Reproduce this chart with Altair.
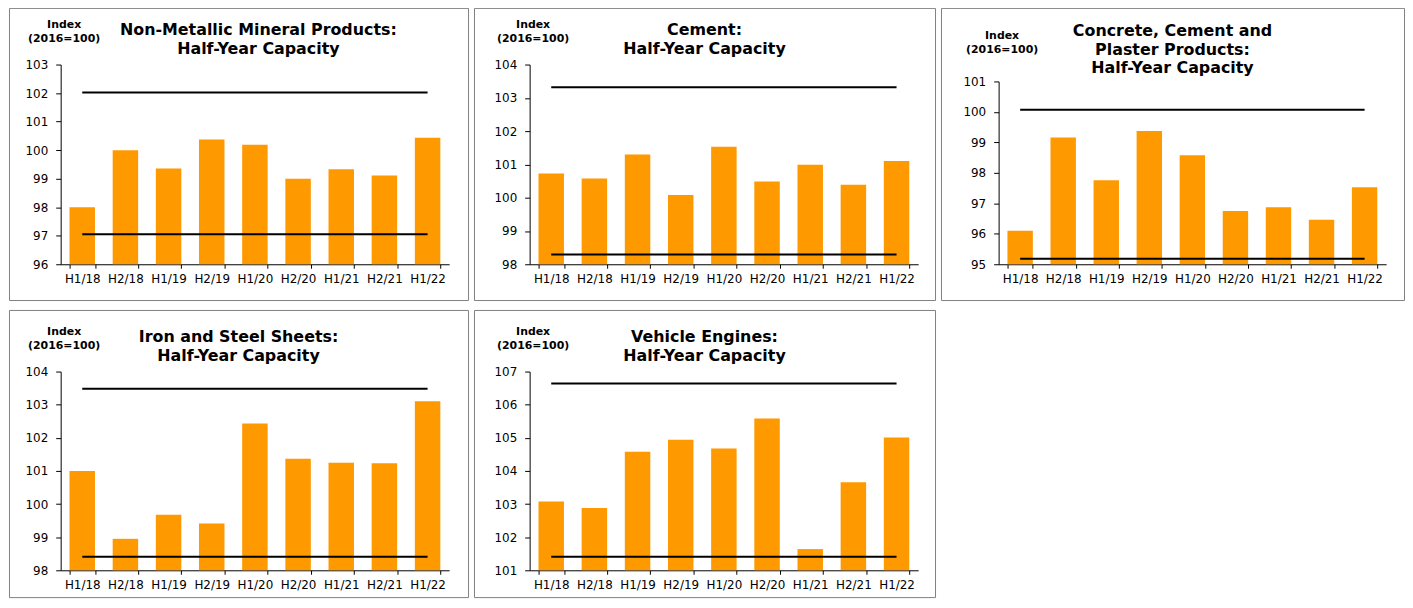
import altair as alt
import pandas as pd

periods = ["H1/18", "H2/18", "H1/19", "H2/19", "H1/20", "H2/20", "H1/21", "H2/21", "H1/22"]

titles = [
    ["Non-Metallic Mineral Products:", "Half-Year Capacity"],
    ["Cement:", "Half-Year Capacity"],
    ["Concrete, Cement and", "Plaster Products:", "Half-Year Capacity"],
    ["Iron and Steel Sheets:", "Half-Year Capacity"],
    ["Vehicle Engines:", "Half-Year Capacity"],
]

nonmetallic = [98.0, 100.0, 99.36, 100.37, 100.19, 99.0, 99.33, 99.11, 100.43]
cement = [100.73, 100.58, 101.30, 100.08, 101.53, 100.49, 100.99, 100.39, 101.10]
concrete = [96.10, 99.16, 97.76, 99.37, 98.58, 96.75, 96.87, 96.46, 97.53]
iron_steel = [101.0, 98.95, 99.68, 99.41, 102.43, 101.37, 101.25, 101.23, 103.10]
engines = [103.08, 102.88, 104.58, 104.94, 104.68, 105.58, 101.64, 103.66, 105.01]
series = [nonmetallic, cement, concrete, iron_steel, engines]

upper_lines = [102.02, 103.32, 100.07, 103.48, 106.64]
lower_lines = [97.05, 98.29, 95.18, 98.41, 101.41]
axis_min = [96, 98, 95, 98, 101]
axis_max = [103, 104, 101, 104, 107]

FONT = "DejaVu Sans"
ORANGE = "#FF9900"

# layout of each panel: width, height, x range, y range (bottom, top), title dx, title offset, index label y
layout = [
    dict(w=462, h=294, xr=[52, 443], yr=[258, 57], dx=20, toff=-49, iy=11),
    dict(w=464, h=294, xr=[56, 447], yr=[258, 57], dx=0, toff=-49, iy=11),
    dict(w=466, h=294, xr=[58, 448], yr=[258, 74], dx=0, toff=-69, iy=22),
    dict(w=462, h=289, xr=[52, 443], yr=[262, 62], dx=0, toff=-54, iy=16),
    dict(w=464, h=289, xr=[56, 447], yr=[262, 62], dx=0, toff=-54, iy=16),
]


def panel(i):
    L = layout[i]
    lo, hi = axis_min[i], axis_max[i]
    bars_df = pd.DataFrame({"period": periods, "value": series[i]})
    lines_df = pd.DataFrame({
        "period": [periods[0], periods[-1], periods[0], periods[-1]],
        "value": [upper_lines[i], upper_lines[i], lower_lines[i], lower_lines[i]],
        "line": ["upper", "upper", "lower", "lower"],
    })
    xscale = alt.Scale(domain=periods, range=L["xr"], paddingInner=0.41, paddingOuter=0.205)
    yscale = alt.Scale(domain=[lo, hi], range=L["yr"], nice=False, zero=False)
    xaxis = alt.Axis(
        title=None, offset=L["yr"][0] - L["h"], tickBand="extent", labelAngle=0,
        labelFont=FONT, labelFontSize=12, labelColor="black", labelPadding=5,
        tickSize=4, tickColor="black", domainColor="black", grid=False,
    )
    yaxis = alt.Axis(
        title=["Index", "(2016=100)"], titleAngle=0, titleAlign="center",
        titleBaseline="top", titleX=3, titleY=L["iy"], titleFont=FONT,
        titleFontSize=11, titleFontWeight="bold", titleLineHeight=14, titleColor="black",
        offset=-L["xr"][0], values=list(range(lo, hi + 1)), format="d",
        labelFont=FONT, labelFontSize=12, labelColor="black", labelPadding=8,
        tickSize=5, tickColor="black", domainColor="black", grid=False,
    )
    bars = alt.Chart(bars_df).mark_bar(color=ORANGE).encode(
        x=alt.X("period:N", scale=xscale, axis=xaxis, sort=periods),
        y=alt.Y("value:Q", scale=yscale, axis=yaxis),
        y2=alt.datum(lo),
    )
    lines = alt.Chart(lines_df).mark_line(color="black", strokeWidth=2).encode(
        x=alt.X("period:N", scale=xscale, axis=xaxis, sort=periods),
        y=alt.Y("value:Q", scale=yscale, axis=yaxis),
        detail="line:N",
    )
    return alt.layer(bars, lines).properties(
        width=L["w"], height=L["h"],
        title=alt.TitleParams(
            text=titles[i], font=FONT, fontSize=16, fontWeight="bold", color="black",
            lineHeight=19, anchor="middle", offset=L["toff"], dx=L["dx"],
        ),
    )


row1 = alt.hconcat(panel(0), panel(1), panel(2), spacing=4)
row2 = alt.hconcat(panel(3), panel(4), spacing=4)
chart = alt.vconcat(row1, row2, spacing=8).properties(
    padding={"top": -3, "left": 0, "right": 0, "bottom": 0}
).configure_view(stroke="#808080", strokeWidth=1)

chart.save("out.html", embed_options={"renderer": "svg", "actions": False})
